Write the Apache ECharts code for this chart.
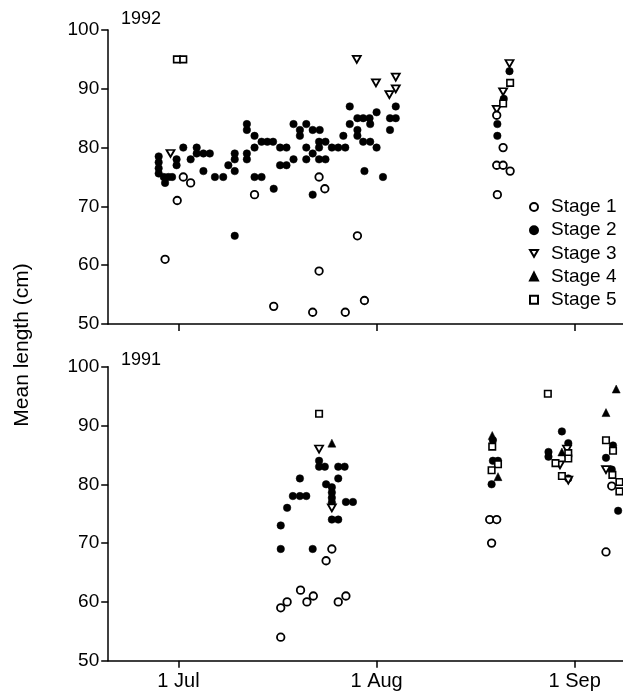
<!DOCTYPE html>
<html><head><meta charset="utf-8">
<script src="https://cdn.jsdelivr.net/npm/echarts@6/dist/echarts.min.js"></script>
<style>html,body{margin:0;padding:0;background:#fff}#c{width:623px;height:697px}</style>
</head><body><div id="c"></div>
<script>
// x values are days after 1 July
const tickDays = [0, 31, 62];
const tickLabels = ['1 Jul', '1 Aug', '1 Sep'];
const stageNames = ['Stage 1', 'Stage 2', 'Stage 3', 'Stage 4', 'Stage 5'];
const panelYears = ['1992', '1991'];

// 1992 (top panel)
const s1_1992 = [[-2.1,61],[-0.2,71],[0.75,75],[1.9,74],[11.9,72],[14.9,53],[22,75],[22.9,73],[28,65],[22,59],[21,52],[26.1,52],[29.1,54],[49.8,85.5],[50.8,80],[49.8,77],[50.8,77],[51.9,76],[49.9,72]];
const s2_1992 = [[-3.1,78.5],[-3.1,77.5],[-3.1,76.5],[-3.1,75.6],[-2.3,75],[-1.6,75],[-1.0,75],[-2.1,74],[-0.3,78],[-0.3,77],[0.75,80],[1.9,78],[2.85,80],[2.85,79],[3.9,79],[4.9,79],[3.9,76],[5.7,75],[7.0,75],[7.8,77],[8.8,79],[8.8,78],[8.8,76],[8.8,65],[10.7,84],[10.7,83],[10.7,79],[10.7,78],[11.9,82],[11.9,80],[13,81],[13.9,81],[14.8,81],[11.9,75],[13,75],[14.9,73],[15.9,80],[16.9,80],[15.9,77],[16.9,77],[18,78],[18,84],[19,83],[19,82],[20,84],[21,83],[22.1,83],[20,80],[20,78],[21,79],[22,81],[22,80],[23,81],[22,78],[23,78],[21,72],[24,80],[25,80],[26.1,80],[25.8,82],[26.8,87],[26.8,84],[28,83],[28,82],[28,85],[28.9,85],[29.9,85],[30,84],[28.9,81],[30,81],[31,86],[31,80],[29.1,76],[32,75],[33.1,85],[34,85],[33.1,83],[34,87],[51.8,93],[50.9,88.3],[49.9,84],[49.9,82]];
const s3_1992 = [[-1.25,79],[27.9,95],[30.9,91],[33,89],[34,92],[34,90],[51.8,94.3],[50.8,89.5],[49.8,86.5]];
const s4_1992 = [];
const s5_1992 = [[-0.25,95],[0.75,95],[51.9,91],[50.8,87.5]];

// 1991 (bottom panel)
const s1_1991 = [[16,59],[17,60],[19.1,62],[20.1,60],[21.1,61],[25,60],[26.2,61],[16,54],[24,69],[23.1,67],[48.7,74],[49.8,74],[49,70],[67.8,79.7],[66.9,68.5]];
const s2_1991 = [[16,73],[16,69],[21,69],[17,76],[17.9,78],[19,78],[20,78],[19,81],[22,84],[22,83],[22.9,83],[25,83],[26,83],[25,81],[23.1,80],[24,79.5],[24,78.6],[24,77.7],[24,76.9],[26.2,77],[27.3,77],[24,74],[25,74],[49.2,87.5],[49.2,84],[50,84],[49,80],[60,89],[61,87],[57.9,85.5],[57.9,84.7],[61,81],[68,86.6],[66.9,84.5],[67.8,82.5],[68.8,75.5]];
const s3_1991 = [[22,86],[24,76],[60.8,86],[59.7,83.3],[61,80.7],[66.9,82.5]];
const s4_1991 = [[24,87],[49.1,88.3],[50,81.3],[60,85.5],[68.5,96.2],[66.9,92.2]];
const s5_1991 = [[22,92],[49.1,86.4],[50,83.4],[49,82.4],[57.8,95.4],[61,85.3],[61,84.4],[59,83.6],[60,81.4],[66.9,87.5],[68,85.7],[67.9,81.6],[69,80.4],[69,78.8]];

const FONT = "'Liberation Sans', Arial, Helvetica, sans-serif";
const DOWN_TRI = 'path://M0,0L10,0L5,8.66Z';
const styles = [
  {symbol:'circle', symbolSize:7.5, itemStyle:{color:'#fff', borderColor:'#000', borderWidth:1.8, opacity:1}},
  {symbol:'circle', symbolSize:7.5, itemStyle:{color:'#000', borderColor:'#000', borderWidth:0.5, opacity:1}},
  {symbol:DOWN_TRI, symbolSize:[8,7], itemStyle:{color:'#fff', borderColor:'#000', borderWidth:1.8, opacity:1}},
  {symbol:'triangle', symbolSize:8, itemStyle:{color:'#000', borderColor:'#000', borderWidth:0.5, opacity:1}},
  {symbol:'rect', symbolSize:6.5, itemStyle:{color:'#fff', borderColor:'#000', borderWidth:1.6, opacity:1}}
];
const panels = [
  [s1_1992, s2_1992, s3_1992, s4_1992, s5_1992],
  [s1_1991, s2_1991, s3_1991, s4_1991, s5_1991]
];

const grids = [
  {left:108.2, top:30, width:514.4, height:294},
  {left:108.2, top:366.7, width:514.4, height:294}
];
const axisLineStyle = {color:'#000', width:1.5};
const xAxes = grids.map((g, i) => ({
  type:'value', gridIndex:i, min:-11, max:69.5,
  axisLine:{show:true, onZero:false, lineStyle:axisLineStyle},
  axisTick:{show:true, length:7, customValues:tickDays, lineStyle:axisLineStyle},
  axisLabel:{show:i===1, customValues:tickDays, margin:11, fontSize:20, color:'#000', fontFamily:FONT,
    formatter:(v)=>tickLabels[tickDays.indexOf(v)] || ''},
  splitLine:{show:false}
}));
const yAxes = grids.map((g, i) => ({
  type:'value', gridIndex:i, min:50, max:100, interval:10,
  axisLine:{show:true, onZero:false, lineStyle:axisLineStyle},
  axisTick:{show:true, length:7, lineStyle:axisLineStyle},
  axisLabel:{margin:9, fontSize:19, color:'#000', fontFamily:FONT},
  splitLine:{show:false}
}));
const series = [];
panels.forEach((p, pi) => {
  p.forEach((data, si) => {
    series.push(Object.assign({
      type:'scatter', name:stageNames[si], xAxisIndex:pi, yAxisIndex:pi,
      data:data, clip:false, z: si===0 ? 3 : 2
    }, styles[si]));
  });
});

const chart = echarts.init(document.getElementById('c'), null, {renderer:'canvas'});
chart.setOption({
  animation:false,
  backgroundColor:'#fff',
  textStyle:{fontFamily:FONT},
  grid:grids, xAxis:xAxes, yAxis:yAxes, series:series,
  legend:{
    data:stageNames, orient:'vertical', left:529, top:197, padding:0,
    itemWidth:8, itemHeight:8, itemGap:3.2, selectedMode:false,
    textStyle:{fontSize:19, color:'#000', fontFamily:FONT, lineHeight:20, padding:[0,0,0,8]}
  },
  graphic:[
    {type:'text', left:121, top:10, style:{text:panelYears[0], fontSize:18, fill:'#000', fontFamily:FONT}},
    {type:'text', left:121, top:351, style:{text:panelYears[1], fontSize:18, fill:'#000', fontFamily:FONT}},
    {type:'text', x:22, y:345, rotation:Math.PI/2,
      style:{text:'Mean length (cm)', fontSize:21, fill:'#000', fontFamily:FONT, align:'center', verticalAlign:'middle'}}
  ]
});
</script></body></html>
